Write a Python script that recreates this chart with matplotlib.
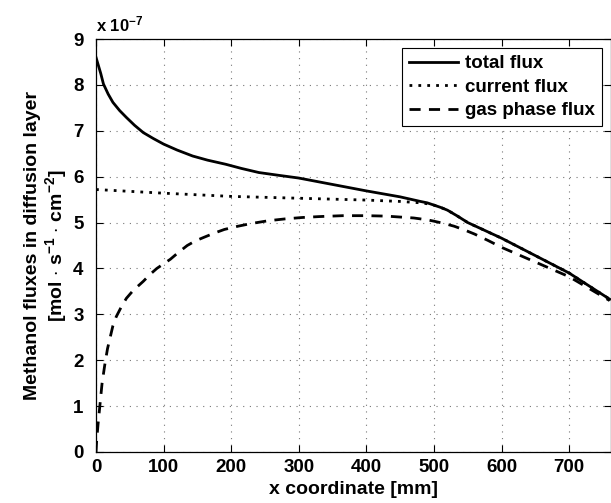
import matplotlib
matplotlib.use("Agg")
import matplotlib.pyplot as plt

# data (flux values in units of 1e-7 mol s^-1 cm^-2)
total_x = [0, 3, 7, 11, 18, 25, 35, 45, 57, 70, 85, 100, 120, 143, 165, 192, 215,
           241, 270, 300, 350, 400, 450, 480, 490, 500, 510, 520, 535, 550, 575,
           600, 650, 700, 760]
total_y = [8.6, 8.45, 8.25, 8.02, 7.8, 7.62, 7.44, 7.29, 7.12, 6.96, 6.83, 6.71,
           6.58, 6.45, 6.36, 6.27, 6.18, 6.09, 6.03, 5.97, 5.83, 5.69, 5.56, 5.46,
           5.43, 5.38, 5.33, 5.27, 5.14, 5.0, 4.83, 4.66, 4.28, 3.90, 3.33]

current_x = [0, 100, 200, 300, 400, 450, 480, 490, 500, 510, 520, 535, 550, 575,
             600, 650, 700, 760]
current_y = [5.72, 5.64, 5.57, 5.53, 5.49, 5.46, 5.43, 5.41, 5.38, 5.33, 5.27,
             5.14, 5.0, 4.83, 4.66, 4.28, 3.90, 3.33]

gas_x = [0, 1, 3, 6, 9, 13, 17, 21, 25, 30, 37, 45, 55, 70, 80, 90, 100, 110, 122,
         135, 147, 160, 175, 190, 210, 230, 255, 280, 305, 330, 365, 400, 430,
         450, 470, 490, 500, 515, 530, 545, 560, 580, 600, 650, 700, 760]
gas_y = [0, 0.25, 0.6, 1.05, 1.5, 1.9, 2.25, 2.5, 2.75, 2.95, 3.15, 3.35, 3.52,
         3.72, 3.87, 4.0, 4.1, 4.2, 4.35, 4.5, 4.6, 4.68, 4.77, 4.85, 4.92, 4.98,
         5.04, 5.08, 5.11, 5.13, 5.15, 5.15, 5.14, 5.12, 5.10, 5.06, 5.03, 4.98,
         4.92, 4.84, 4.75, 4.61, 4.46, 4.14, 3.82, 3.3]

labels = ["total flux", "current flux", "gas phase flux"]

plt.rcParams["font.family"] = ["Liberation Sans", "DejaVu Sans"]
plt.rcParams["font.weight"] = "bold"
plt.rcParams["axes.labelweight"] = "bold"
plt.rcParams["mathtext.fontset"] = "custom"
plt.rcParams["mathtext.rm"] = "Liberation Sans:bold"
plt.rcParams["mathtext.bf"] = "Liberation Sans:bold"
plt.rcParams["mathtext.default"] = "rm"

fig = plt.figure(figsize=(6.11, 5.03), dpi=100)
ax = fig.add_axes([96 / 611, 51 / 503, (611 - 96) / 611, (452 - 39) / 503])

ax.plot(total_x, total_y, color="black", lw=2.0, ls="-", label=labels[0])
ax.plot(current_x, current_y, color="black", lw=2.0, ls=(0, (1, 2.2)), label=labels[1])
ax.plot(gas_x, gas_y, color="black", lw=2.0, ls=(0, (4, 3)), label=labels[2])

ax.set_xlim(0, 762)
ax.set_ylim(0, 9)
ax.set_xticks([0, 100, 200, 300, 400, 500, 600, 700])
ax.set_yticks(range(10))
ax.tick_params(direction="in", length=5, top=True, right=True, labelsize=13.5,
               width=0.8)
ax.tick_params(axis="x", pad=5)
ax.tick_params(axis="y", pad=9)
for s in ax.spines.values():
    s.set_linewidth(0.9)
ax.grid(True, ls=(0, (1, 5)), color="#777777", lw=0.8)

ax.text(0, 1.012, "x 10$^{-7}$", transform=ax.transAxes, fontsize=12,
        ha="left", va="bottom")

ax.set_xlabel("x coordinate [mm]", fontsize=14, labelpad=4)
ax.set_ylabel("Methanol fluxes in diffusion layer\n[mol $\\cdot$ s$^{-1}$ $\\cdot$ cm$^{-2}$]",
              fontsize=14, labelpad=3, linespacing=1.1)

leg = ax.legend(loc="upper right", fontsize=13.5, handlelength=2.6,
                borderaxespad=0.5, fancybox=False, edgecolor="black",
                framealpha=1, handletextpad=0.4, labelspacing=0.35,
                borderpad=0.35)
leg.get_frame().set_linewidth(0.8)

fig.savefig("out.png", dpi=100)
